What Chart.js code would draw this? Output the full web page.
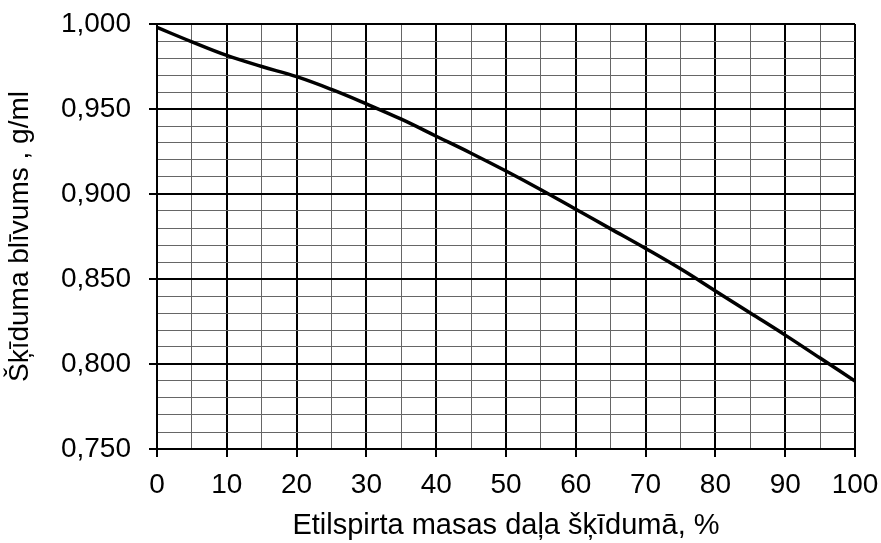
<!DOCTYPE html>
<html>
<head>
<meta charset="utf-8">
<script src="https://cdn.jsdelivr.net/npm/chart.js@4"></script>
<style>
  body { margin: 0; background: #fff; }
</style>
</head>
<body>
<canvas id="densityChart" width="881" height="543"></canvas>
<script>
// spirta masas daļa, % un šķīduma blīvums, g/ml
const massPercent = [0, 5, 10, 15, 20, 25, 30, 35, 40, 45, 50, 55, 60, 65, 70, 75, 80, 85, 90, 95, 100];
const density = [0.998, 0.9895, 0.9815, 0.975, 0.969, 0.9615, 0.953, 0.944, 0.934, 0.924, 0.9135,
                 0.9025, 0.891, 0.8795, 0.868, 0.856, 0.843, 0.830, 0.817, 0.8035, 0.790];
const xTitle = 'Etilspirta masas daļa šķīdumā, %';
const yTitle = 'Šķīduma blīvums , g/ml';

const font = { family: "'Liberation Sans', Arial, sans-serif", size: 28 };
const titleFont = { family: "'Liberation Sans', Arial, sans-serif", size: 29 };

const isMajorX = v => Math.round(v) % 10 === 0;
const isMajorY = v => Math.round(v * 1000) % 50 === 0;

const ctx = document.getElementById('densityChart');

new Chart(ctx, {
  type: 'line',
  data: {
    datasets: [{
      data: massPercent.map((x, i) => ({ x: x, y: density[i] })),
      borderColor: '#000',
      borderWidth: 3.5,
      pointRadius: 0,
      fill: false,
      tension: 0.4
    }]
  },
  options: {
    responsive: false,
    animation: false,
    layout: { padding: { top: 24, right: 26, left: 0, bottom: 0 } },
    plugins: { legend: { display: false }, tooltip: { enabled: false } },
    scales: {
      x: {
        type: 'linear',
        min: 0,
        max: 100,
        afterFit: s => { s.height = 94; s.paddingLeft = 0; s.paddingRight = 0; },
        ticks: {
          stepSize: 5,
          autoSkip: false,
          maxRotation: 0,
          color: '#000',
          font: font,
          padding: 11,
          callback: v => isMajorX(v) ? String(v) : ''
        },
        grid: {
          color: c => isMajorX(c.tick.value) ? '#000' : '#666',
          lineWidth: c => isMajorX(c.tick.value) ? 2 : 1,
          tickColor: c => isMajorX(c.tick.value) ? '#000' : 'rgba(0,0,0,0)',
          tickLength: 8,
          tickWidth: 2
        },
        border: { color: '#000', width: 2 },
        title: { display: true, text: xTitle, color: '#000', font: titleFont, padding: { top: 0, bottom: 0 } }
      },
      y: {
        min: 0.75,
        max: 1.0,
        afterFit: s => { s.width = 157; s.paddingTop = 0; s.paddingBottom = 0; },
        ticks: {
          stepSize: 0.01,
          autoSkip: false,
          color: '#000',
          font: font,
          padding: 18,
          callback: v => isMajorY(v) ? v.toFixed(3).replace('.', ',') : ''
        },
        grid: {
          color: c => isMajorY(c.tick.value) ? '#000' : '#666',
          lineWidth: c => isMajorY(c.tick.value) ? 2 : 1,
          tickColor: c => isMajorY(c.tick.value) ? '#000' : 'rgba(0,0,0,0)',
          tickLength: 8,
          tickWidth: 2
        },
        border: { color: '#000', width: 2 },
        title: { display: true, text: yTitle, color: '#000', font: font, padding: { top: 3, bottom: 0 } }
      }
    }
  }
});
</script>
</body>
</html>
